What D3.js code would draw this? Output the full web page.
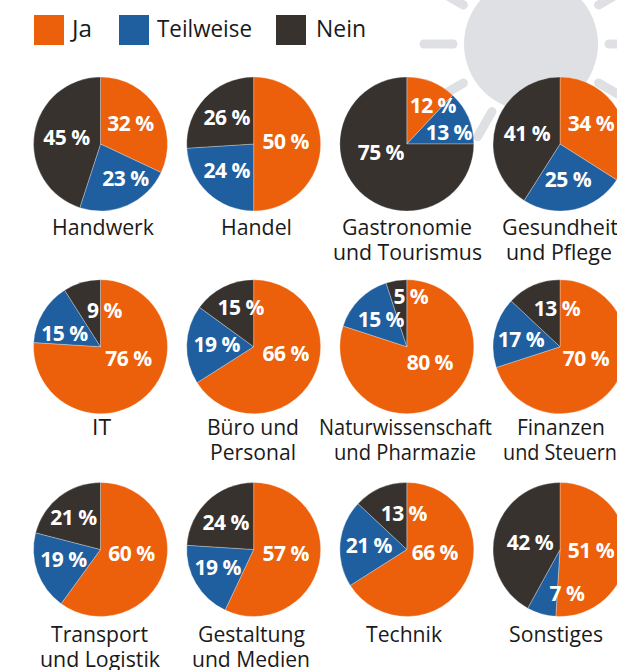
<!DOCTYPE html>
<html>
<head>
<meta charset="utf-8">
<script src="https://cdn.jsdelivr.net/npm/d3@7"></script>
<style>
body { margin: 0; background: white; overflow: hidden; }
text { font-family: "Open Sans", sans-serif; }
</style>
</head>
<body>
<div id="chart"></div>
<script>
var answers = ['Ja', 'Teilweise', 'Nein'];
var colors = ['#ec5f0b', '#1f5f9f', '#38322f'];

var branches = [
    ['Handwerk'], ['Handel'], ['Gastronomie', 'und Tourismus'], ['Gesundheit', 'und Pflege'],
    ['IT'], ['Büro und', 'Personal'], ['Naturwissenschaft', 'und Pharmazie'], ['Finanzen', 'und Steuern'],
    ['Transport', 'und Logistik'], ['Gestaltung', 'und Medien'], ['Technik'], ['Sonstiges']
];

var ja = [32, 50, 12, 34, 76, 66, 80, 70, 60, 57, 66, 51];
var teilweise = [23, 24, 13, 25, 15, 19, 15, 17, 19, 19, 21, 7];
var nein = [45, 26, 75, 41, 9, 15, 5, 13, 21, 24, 13, 42];

// label centres relative to the pie centre, hand placed like the original
var labelShift = [
    [[30, -21], [25, 34], [-34, -7]],
    [[32, -3], [-27, 26], [-27, -27]],
    [[26, -39], [42, -12], [-26, 8]],
    [[31, -21], [8, 35], [-33, -11]],
    [[28, 11], [-36, -14], [4, -37]],
    [[32, 6], [-37, -3], [-13, -40]],
    [[23, 15], [-26, -28], [4, -51]],
    [[26, 11], [-39, -8], [-3, -39]],
    [[31, 3], [-37, 9], [-27, -33]],
    [[32, 3], [-36, 17], [-28, -28]],
    [[28, 2], [-38, -5], [-3, -37]],
    [[31, 0], [7, 43], [-30, -8]]
];

// left edge and width of every caption line, the original squeezes some of them
var captionBox = [
    [[52, 102]], [[221, 71]], [[342, 130], [333, 149]], [[502, 116], [506, 106]],
    [[92, 19]], [[207, 92], [210, 86]], [[319, 173], [334, 142]], [[517, 88], [503, 114]],
    [[51, 97], [40, 120]], [[198, 107], [192, 118]], [[366, 76]], [[509, 94]]
];

var width = 617;
var height = 670;
var radius = 67;
var colX = d3.scalePoint().domain(d3.range(4)).range([100.5, 560]);
var rowY = d3.scalePoint().domain(d3.range(3)).range([144, 549.5]);
var captionY = [227, 427, 634];

var svg = d3
    .select('#chart')
    .append('svg')
    .attr('width', width)
    .attr('height', height);

// sun in the background
var sun = svg.append('g').attr('transform', 'translate(531,44)');
sun.append('circle').attr('r', 67).attr('fill', '#dfe0e3');
sun.selectAll('line')
    .data(d3.range(0, 360, 30))
    .enter()
    .append('line')
    .attr('x1', d => 78 * Math.cos(d * Math.PI / 180))
    .attr('y1', d => 78 * Math.sin(d * Math.PI / 180))
    .attr('x2', d => 107 * Math.cos(d * Math.PI / 180))
    .attr('y2', d => 107 * Math.sin(d * Math.PI / 180))
    .attr('stroke', '#dfe0e3')
    .attr('stroke-width', 9)
    .attr('stroke-linecap', 'round');

// legend
var legendX = [34, 119, 276];
var legendTextX = [72, 157, 316];
var legendTextW = [20, 95, 50];
answers.forEach((a, i) => {
    svg.append('rect')
        .attr('x', legendX[i])
        .attr('y', 15)
        .attr('width', 30)
        .attr('height', 30)
        .attr('fill', colors[i]);
    svg.append('text')
        .attr('x', legendTextX[i])
        .attr('y', 31)
        .attr('dominant-baseline', 'middle')
        .attr('font-size', 23.5)
        .attr('textLength', legendTextW[i])
        .attr('lengthAdjust', 'spacingAndGlyphs')
        .attr('fill', '#1a1a1a')
        .text(a);
});

var pie = d3.pie().sort(null);
var arc = d3.arc().innerRadius(0).outerRadius(radius);

branches.forEach((lines, i) => {
    var cx = colX(i % 4);
    var cy = rowY(Math.floor(i / 4));
    var g = svg.append('g').attr('transform', `translate(${cx},${cy})`);
    var values = [ja[i], teilweise[i], nein[i]];

    g.selectAll('path')
        .data(pie(values))
        .enter()
        .append('path')
        .attr('d', arc)
        .attr('fill', (d, j) => colors[j])
        .attr('stroke', '#fff')
        .attr('stroke-width', 0.3);

    g.selectAll('text')
        .data(values)
        .enter()
        .append('text')
        .attr('x', (d, j) => labelShift[i][j][0])
        .attr('y', (d, j) => labelShift[i][j][1])
        .attr('text-anchor', 'middle')
        .attr('dominant-baseline', 'central')
        .attr('font-size', 21)
        .attr('font-weight', 700)
        .attr('letter-spacing', -0.5)
        .attr('fill', '#fff')
        .text(d => d + ' %');

    lines.forEach((line, k) => {
        svg.append('text')
            .attr('x', captionBox[i][k][0])
            .attr('y', captionY[Math.floor(i / 4)] + k * 25)
            .attr('dominant-baseline', 'central')
            .attr('font-size', 21)
            .attr('textLength', captionBox[i][k][1])
            .attr('lengthAdjust', 'spacingAndGlyphs')
            .attr('fill', '#1a1a1a')
            .text(line);
    });
});
</script>
</body>
</html>
